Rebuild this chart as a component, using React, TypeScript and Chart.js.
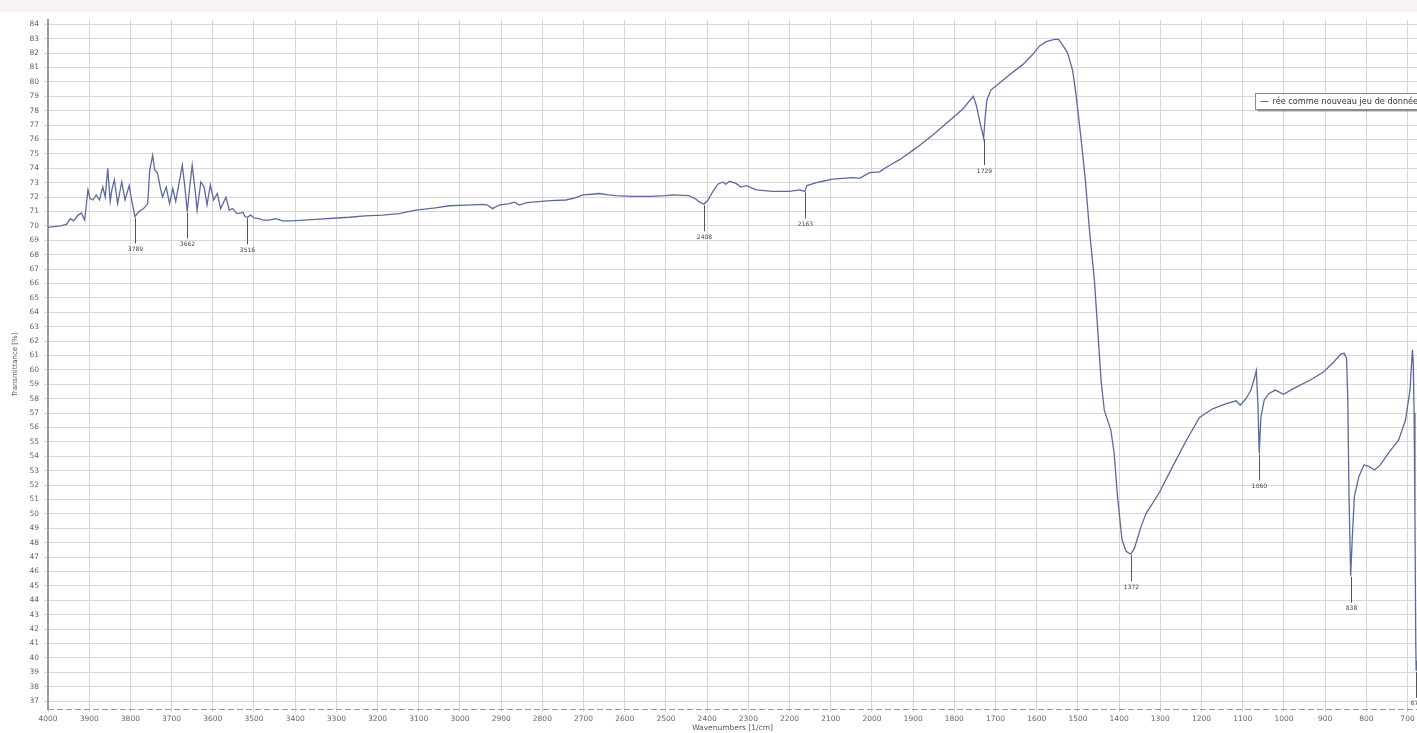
import React, { useEffect, useRef } from 'react';
import { Chart, registerables } from 'chart.js';

Chart.register(...registerables);

// ---- data ----
const wavenumbers = [
  4000, 3985, 3970, 3955, 3946, 3938, 3927, 3919, 3911, 3903, 3898, 3891, 3883, 3875, 3867, 3861, 3855, 3849, 3845, 3839,
  3831, 3821, 3813, 3803, 3797, 3789, 3779, 3768, 3758, 3753, 3746, 3741, 3734, 3727, 3722, 3713, 3705, 3697, 3690, 3682,
  3674, 3667, 3662, 3656, 3650, 3643, 3638, 3629, 3621, 3614, 3606, 3598, 3589, 3581, 3568, 3560, 3552, 3541, 3531, 3527,
  3522, 3516, 3508, 3500, 3488, 3478, 3463, 3447, 3431, 3407, 3380, 3350, 3300, 3269, 3230, 3188, 3148, 3107, 3060, 3026,
  2985, 2945, 2933, 2921, 2905, 2880, 2868, 2856, 2840, 2824, 2780, 2743, 2720, 2702, 2680, 2662, 2640, 2622, 2581, 2540,
  2500, 2484, 2444, 2427, 2418, 2408, 2398, 2386, 2374, 2362, 2355, 2346, 2330, 2318, 2305, 2281, 2241, 2200, 2176, 2163,
  2158, 2128, 2095, 2047, 2030, 2006, 1982, 1958, 1933, 1893, 1853, 1812, 1780, 1754, 1746, 1739, 1733, 1729, 1725, 1721,
  1711, 1691, 1666, 1634, 1610, 1593, 1577, 1557, 1547, 1537, 1525, 1513, 1505, 1493, 1482, 1472, 1460, 1452, 1444, 1436,
  1420, 1412, 1404, 1393, 1383, 1372, 1363, 1347, 1335, 1302, 1270, 1237, 1205, 1173, 1140, 1116, 1106, 1092, 1080, 1072,
  1067, 1063, 1060, 1056, 1048, 1037, 1021, 1001, 977, 936, 904, 879, 862, 854, 848, 845, 842, 838, 834, 829,
  818, 806, 794, 780, 766, 742, 722, 705, 694, 688, 686, 684, 682, 680, 679, 677,
];

const transmittance = [
  69.9, 69.95, 70.0, 70.1, 70.5, 70.35, 70.75, 70.9, 70.4, 72.5, 71.9, 71.8, 72.15, 71.8, 72.7, 72.0, 74.0, 71.7, 72.5, 73.2,
  71.55, 73.05, 71.8, 72.8, 71.8, 70.65, 71.0, 71.2, 71.55, 73.9, 74.9, 73.9, 73.65, 72.6, 72.0, 72.7, 71.55, 72.6, 71.7, 72.95,
  74.2, 72.5, 71.0, 72.7, 74.2, 72.5, 71.1, 73.05, 72.7, 71.45, 72.85, 71.8, 72.25, 71.2, 72.0, 71.1, 71.2, 70.85, 70.9, 70.95,
  70.65, 70.6, 70.75, 70.55, 70.5, 70.4, 70.4, 70.5, 70.35, 70.35, 70.4, 70.45, 70.55, 70.6, 70.7, 70.75, 70.85, 71.1, 71.25, 71.4,
  71.45, 71.5, 71.45, 71.2, 71.45, 71.55, 71.65, 71.45, 71.6, 71.65, 71.75, 71.8, 71.95, 72.15, 72.2, 72.25, 72.15, 72.1, 72.05, 72.05,
  72.1, 72.15, 72.1, 71.85, 71.65, 71.5, 71.8, 72.4, 72.9, 73.05, 72.9, 73.1, 72.95, 72.7, 72.8, 72.5, 72.4, 72.4, 72.5, 72.4,
  72.8, 73.05, 73.25, 73.35, 73.3, 73.7, 73.75, 74.2, 74.6, 75.4, 76.3, 77.3, 78.1, 79.0, 78.3, 77.35, 76.6, 76.1, 77.6, 78.75,
  79.45, 79.9, 80.5, 81.2, 81.9, 82.5, 82.8, 82.95, 82.95, 82.55, 82.0, 80.8, 79.2, 76.2, 73.2, 69.7, 66.2, 62.8, 59.3, 57.2,
  55.8, 54.2, 51.2, 48.2, 47.4, 47.2, 47.6, 49.1, 50.0, 51.5, 53.3, 55.1, 56.7, 57.3, 57.65, 57.85, 57.55, 58.0, 58.6, 59.4,
  59.95, 57.5, 54.2, 56.7, 57.9, 58.35, 58.6, 58.3, 58.7, 59.3, 59.85, 60.55, 61.1, 61.15, 60.8, 58.0, 51.2, 45.7, 48.4, 51.2,
  52.6, 53.4, 53.3, 53.05, 53.4, 54.4, 55.1, 56.5, 58.6, 61.4, 60.5, 57.0, 50.0, 41.0, 39.1, 39.8,
];

const peakWavenumbers = [3789, 3662, 3516, 2408, 2163, 1729, 1372, 1060, 838, 679];

const seriesLabel = 'rée comme nouveau jeu de données';
const xAxisTitle = 'Wavenumbers [1/cm]';
const yAxisTitle = 'Transmittance [%]';

const xMin = 677;
const xMax = 4000;
const xTickStep = 100;
const yMin = 36.45;
const yMax = 84.3;
const yTickStep = 1;

// ---- styling ----
const FONT = 'DejaVu Sans';
const LINE_COLOR = '#5a6a9e';

const peakPlugin = {
  id: 'peakLabels',
  afterDatasetsDraw(chart: any) {
    const { ctx, scales } = chart;
    const xs = scales.x;
    const ys = scales.y;
    ctx.save();
    ctx.strokeStyle = '#555';
    ctx.lineWidth = 1;
    ctx.fillStyle = '#444';
    ctx.font = `6px "${FONT}"`;
    ctx.textAlign = 'center';
    ctx.textBaseline = 'middle';
    peakWavenumbers.forEach((wn) => {
      const idx = wavenumbers.indexOf(wn);
      const val = transmittance[idx];
      const px = Math.round(xs.getPixelForValue(wn)) + 0.5;
      const py = ys.getPixelForValue(val);
      ctx.beginPath();
      ctx.moveTo(px, py + 1);
      ctx.lineTo(px, py + 27);
      ctx.stroke();
      ctx.fillText(String(wn), px, py + 33);
    });
    ctx.restore();
  },
};

const bottomAxisPlugin = {
  id: 'dashedBottomAxis',
  afterDatasetsDraw(chart: any) {
    const { ctx, chartArea } = chart;
    ctx.save();
    ctx.strokeStyle = '#9a9a9a';
    ctx.lineWidth = 1;
    ctx.setLineDash([6, 3]);
    ctx.beginPath();
    const y = Math.round(chartArea.bottom) + 0.5;
    ctx.moveTo(chartArea.left, y);
    ctx.lineTo(chartArea.right, y);
    ctx.stroke();
    ctx.restore();
  },
};

const legendPlugin = {
  id: 'boxLegend',
  afterDraw(chart: any) {
    const { ctx } = chart;
    const ds = chart.data.datasets[0];
    const bx = 1255.5;
    const by = 93.5;
    const bw = 200;
    const bh = 16;
    ctx.save();
    ctx.fillStyle = 'rgba(0,0,0,0.35)';
    ctx.fillRect(bx + 2, by + 2, bw, bh);
    ctx.fillStyle = '#ffffff';
    ctx.fillRect(bx, by, bw, bh);
    ctx.strokeStyle = '#8a8a8a';
    ctx.lineWidth = 1;
    ctx.strokeRect(bx, by, bw, bh);
    const cy = by + bh / 2;
    ctx.strokeStyle = ds.borderColor;
    ctx.lineWidth = 1;
    ctx.beginPath();
    ctx.moveTo(bx + 5, cy);
    ctx.lineTo(bx + 13, cy);
    ctx.stroke();
    ctx.fillStyle = '#333';
    ctx.font = `8.2px "${FONT}"`;
    ctx.textAlign = 'left';
    ctx.textBaseline = 'middle';
    ctx.fillText(ds.label, bx + 17, cy);
    ctx.restore();
  },
};

export default function App() {
  const ref = useRef<HTMLCanvasElement | null>(null);

  useEffect(() => {
    if (!ref.current) return;
    const points = wavenumbers.map((w, i) => ({ x: w, y: transmittance[i] }));
    const chart = new Chart(ref.current, {
      type: 'line',
      data: {
        datasets: [
          {
            label: seriesLabel,
            data: points,
            borderColor: LINE_COLOR,
            borderWidth: 1.3,
            pointRadius: 0,
            fill: false,
            tension: 0,
          },
        ],
      },
      options: {
        responsive: false,
        animation: false,
        events: [],
        layout: { padding: { top: 20, right: 0, bottom: 0, left: 0 } },
        plugins: {
          legend: { display: false },
          tooltip: { enabled: false },
        },
        scales: {
          x: {
            type: 'linear',
            reverse: true,
            min: xMin,
            max: xMax,
            afterBuildTicks: (s: any) => {
              const t = [];
              for (let v = Math.ceil(xMin / xTickStep) * xTickStep; v <= xMax; v += xTickStep) t.push({ value: v });
              s.ticks = t;
            },
            afterFit: (s: any) => {
              s.height = 24;
            },
            grid: { color: '#d6d6d6', lineWidth: 1, tickLength: 3, drawTicks: true },
            border: { display: false },
            ticks: {
              font: { family: FONT, size: 7.5 },
              color: '#666',
              padding: 3,
              maxRotation: 0,
              autoSkip: false,
              callback: (v: any) => String(v),
            },
            title: {
              display: true,
              text: xAxisTitle,
              font: { family: FONT, size: 7.5 },
              color: '#555',
              padding: { top: 0, bottom: 0 },
            },
          },
          y: {
            type: 'linear',
            min: yMin,
            max: yMax,
            afterBuildTicks: (s: any) => {
              const t = [];
              for (let v = Math.ceil(yMin); v <= yMax; v += yTickStep) t.push({ value: v });
              s.ticks = t;
            },
            afterFit: (s: any) => {
              s.width = 48;
            },
            grid: { color: '#d8d8d8', lineWidth: 1, tickLength: 4, drawTicks: true },
            border: { display: true, color: '#9a9a9a', width: 2 },
            ticks: {
              font: { family: FONT, size: 7.5 },
              color: '#666',
              padding: 5,
              autoSkip: false,
              callback: (v: any) => String(v),
            },
            title: {
              display: true,
              text: yAxisTitle,
              font: { family: FONT, size: 7 },
              color: '#555',
              padding: { top: 11, bottom: 0 },
            },
          },
        },
      },
      plugins: [bottomAxisPlugin, peakPlugin, legendPlugin],
    });
    return () => chart.destroy();
  }, []);

  return (
    <div style={{ position: 'fixed', left: 0, top: 0, width: 1417, height: 733, background: '#ffffff', overflow: 'hidden' }}>
      <div style={{ position: 'absolute', left: 0, top: 0, width: '100%', height: 12, background: '#fbf3f3' }} />
      <canvas ref={ref} width={1417} height={733} style={{ position: 'absolute', left: 0, top: 0 }} />
    </div>
  );
}
